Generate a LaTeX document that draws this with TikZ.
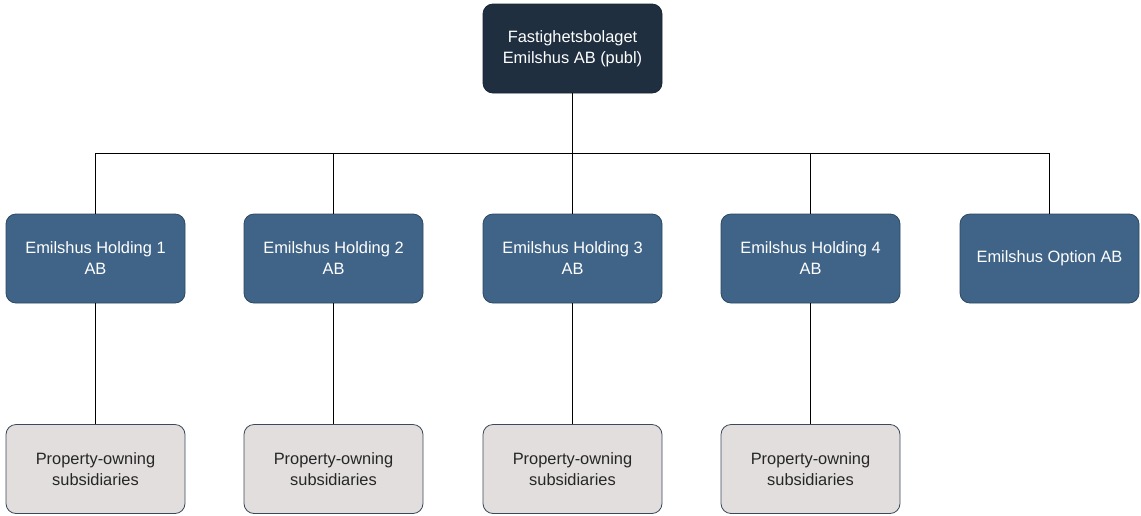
\documentclass[tikz,border=0pt]{standalone}
\usepackage{fontspec}
\setmainfont{Liberation Sans}
\definecolor{topfill}{HTML}{1F2F40}
\definecolor{holdfill}{HTML}{3F6487}
\definecolor{holdline}{HTML}{2C4862}
\definecolor{propfill}{HTML}{E2DEDD}
\definecolor{propline}{HTML}{3A4A5A}
\begin{document}
\begin{tikzpicture}[x=1pt,y=-1pt,
  box/.style={rounded corners=10pt,minimum width=179pt,minimum height=89pt,align=center,
    font=\fontsize{16.4pt}{21pt}\selectfont,line width=0.8pt,inner sep=2pt},
  topbox/.style={box,fill=topfill,draw=topfill!80!black,text=white},
  holdbox/.style={box,fill=holdfill,draw=holdline,text=white},
  propbox/.style={box,fill=propfill,draw=propline,text=black!85},
  conn/.style={draw=black,line width=0.9pt}]
\useasboundingbox (0,0) rectangle (1141,515);
\node[topbox] (top) at (572.5,48.5) {Fastighetsbolaget\\Emilshus AB (publ)};
\node[holdbox] (h1) at (95.5,258.5) {Emilshus Holding 1\\AB};
\node[holdbox] (h2) at (333.5,258.5) {Emilshus Holding 2\\AB};
\node[holdbox] (h3) at (572.5,258.5) {Emilshus Holding 3\\AB};
\node[holdbox] (h4) at (810.5,258.5) {Emilshus Holding 4\\AB};
\node[holdbox] (h5) at (1049.5,258.5) {Emilshus Option AB};
\node[propbox] (p1) at (95.5,469) {Property-owning\\subsidiaries};
\node[propbox] (p2) at (333.5,469) {Property-owning\\subsidiaries};
\node[propbox] (p3) at (572.5,469) {Property-owning\\subsidiaries};
\node[propbox] (p4) at (810.5,469) {Property-owning\\subsidiaries};
\coordinate (bus) at (572.5,153);
\foreach \h in {h1,h2,h3,h4,h5}{
  \draw[conn] (top.south) |- (bus) -| (\h.north);
}
\foreach \i in {1,2,3,4}{
  \draw[conn] (h\i.south) -- (p\i.north);
}
\end{tikzpicture}
\end{document}
